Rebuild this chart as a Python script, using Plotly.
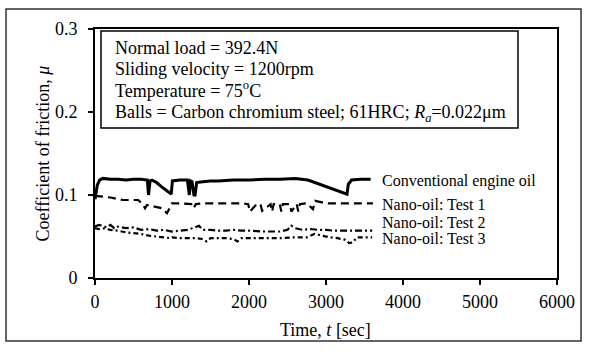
import plotly.graph_objects as go

# ---- data ----
conv_t = [0, 30, 60, 100, 200, 300, 400, 500, 600, 680, 695, 715, 740, 800, 850, 900, 950, 990,
          1005, 1100, 1200, 1225, 1240, 1260, 1285, 1300, 1320, 1400, 1500, 1600, 1800, 2000,
          2200, 2400, 2600, 2766, 2948, 3100, 3273, 3290, 3333, 3450, 3580]
conv_mu = [0.095, 0.112, 0.118, 0.120, 0.119, 0.119, 0.118, 0.119, 0.119, 0.118, 0.100, 0.117,
           0.118, 0.115, 0.111, 0.108, 0.104, 0.101, 0.117, 0.118, 0.118, 0.100, 0.117, 0.116,
           0.100, 0.100, 0.115, 0.116, 0.117, 0.117, 0.118, 0.118, 0.119, 0.119, 0.120, 0.118,
           0.112, 0.107, 0.101, 0.113, 0.118, 0.119, 0.119]

t1_t = [0, 100, 200, 360, 560, 610, 650, 675, 780, 870, 935, 1000, 1100, 1200, 1250, 1280, 1310,
        1400, 1600, 1900, 1990, 2010, 2100, 2150, 2170, 2280, 2300, 2320, 2400, 2420, 2440, 2530,
        2550, 2620, 2640, 2660, 2750, 2830, 2860, 3000, 3200, 3400, 3610]
t1_mu = [0.099, 0.098, 0.097, 0.094, 0.094, 0.090, 0.084, 0.088, 0.086, 0.084, 0.078, 0.090,
         0.090, 0.089, 0.089, 0.084, 0.089, 0.090, 0.090, 0.090, 0.089, 0.080, 0.089, 0.089,
         0.081, 0.089, 0.080, 0.089, 0.089, 0.080, 0.089, 0.089, 0.080, 0.089, 0.080, 0.089,
         0.090, 0.083, 0.093, 0.090, 0.090, 0.090, 0.090]

t2_t = [0, 50, 100, 150, 200, 250, 300, 400, 500, 600, 700, 800, 900, 1000, 1100, 1200, 1300,
        1350, 1400, 1500, 1600, 1700, 1800, 1900, 2000, 2200, 2400, 2500, 2550, 2600, 2700, 2800,
        2900, 3000, 3100, 3200, 3300, 3400, 3500, 3600]
t2_mu = [0.062, 0.064, 0.063, 0.061, 0.064, 0.060, 0.062, 0.060, 0.061, 0.058, 0.059, 0.057,
         0.058, 0.056, 0.057, 0.058, 0.061, 0.063, 0.058, 0.058, 0.057, 0.057, 0.058, 0.057,
         0.057, 0.056, 0.056, 0.058, 0.063, 0.060, 0.058, 0.059, 0.058, 0.058, 0.057, 0.057,
         0.057, 0.057, 0.057, 0.057]

t3_t = [0, 50, 100, 200, 300, 400, 500, 600, 700, 800, 900, 980, 1000, 1100, 1200, 1300, 1400,
        1450, 1500, 1600, 1700, 1800, 1850, 1900, 2000, 2200, 2400, 2600, 2750, 2850, 2950, 3050,
        3150, 3250, 3300, 3350, 3400, 3500, 3600]
t3_mu = [0.060, 0.059, 0.060, 0.058, 0.057, 0.055, 0.054, 0.053, 0.051, 0.050, 0.049, 0.048,
         0.049, 0.048, 0.048, 0.048, 0.047, 0.044, 0.048, 0.048, 0.048, 0.047, 0.044, 0.048,
         0.048, 0.048, 0.048, 0.049, 0.049, 0.053, 0.051, 0.049, 0.048, 0.046, 0.042, 0.043,
         0.049, 0.049, 0.049]

series_names = ["Conventional engine oil", "Nano-oil: Test 1", "Nano-oil: Test 2", "Nano-oil: Test 3"]
label_t = [3700, 3700, 3700, 3700]
label_mu = [0.117, 0.089, 0.067, 0.047]

x_ticks = [0, 1000, 2000, 3000, 4000, 5000, 6000]
y_ticks = [0, 0.1, 0.2, 0.3]
y_tick_text = ["0", "0.1", "0.2", "0.3"]

info_lines = ["Normal load = 392.4N",
              "Sliding velocity = 1200rpm",
              "Temperature = 75<sup>o</sup>C",
              "Balls = Carbon chromium steel; 61HRC; <i>R<sub>a</sub></i>=0.022μm"]

FONT = "Liberation Serif, Times New Roman, serif"

fig = go.Figure()
fig.add_trace(go.Scatter(x=conv_t, y=conv_mu, mode="lines", name=series_names[0],
                         line=dict(color="black", width=3)))
fig.add_trace(go.Scatter(x=t1_t, y=t1_mu, mode="lines", name=series_names[1],
                         line=dict(color="black", width=2.2, dash="8px,5px")))
fig.add_trace(go.Scatter(x=t2_t, y=t2_mu, mode="lines", name=series_names[2],
                         line=dict(color="black", width=2.2, dash="7px,3px,2px,3px")))
fig.add_trace(go.Scatter(x=t3_t, y=t3_mu, mode="lines", name=series_names[3],
                         line=dict(color="black", width=2.2, dash="5px,3px,2px,3px")))

annotations = []
for name, lx, ly in zip(series_names, label_t, label_mu):
    annotations.append(dict(x=lx, y=ly, xref="x", yref="y", text=name, showarrow=False,
                            xanchor="left", yanchor="middle",
                            font=dict(family=FONT, size=16, color="black")))

line_y = [0.922, 0.838, 0.758, 0.662]
for txt, yy in zip(info_lines, line_y):
    annotations.append(dict(x=0.039, y=yy, xref="paper", yref="paper", text=txt, showarrow=False,
                            xanchor="left", yanchor="middle",
                            font=dict(family=FONT, size=18, color="black")))

annotations.append(dict(x=-0.1126, y=0.5, xref="paper", yref="paper",
                        text="Coefficient of friction, <i>μ</i>", textangle=-90, showarrow=False,
                        xanchor="center", yanchor="middle",
                        font=dict(family=FONT, size=18, color="black")))
annotations.append(dict(x=0.498, y=-0.209, xref="paper", yref="paper",
                        text="Time, <i>t</i> [sec]", showarrow=False,
                        xanchor="center", yanchor="middle",
                        font=dict(family=FONT, size=18, color="black")))

shapes = [
    dict(type="rect", xref="paper", yref="paper", x0=0.013, x1=0.9156, y0=0.602, y1=0.992,
         line=dict(color="black", width=1.5), fillcolor="white", layer="above"),
    dict(type="rect", xref="paper", yref="paper", x0=-0.1926, x1=1.052, y0=-0.253, y1=1.080,
         line=dict(color="#333333", width=1.5)),
]

fig.update_layout(
    width=589, height=356,
    margin=dict(l=95, r=32, t=29, b=78),
    paper_bgcolor="white", plot_bgcolor="white",
    showlegend=False,
    annotations=annotations, shapes=shapes,
    font=dict(family=FONT, size=18, color="black"),
)
fig.update_xaxes(range=[0, 6000], tickvals=x_ticks, ticktext=[str(v) for v in x_ticks],
                 showgrid=False, zeroline=False, showline=True, linecolor="black", linewidth=1.5,
                 mirror=True, ticks="outside", ticklen=5, tickwidth=1.5, tickcolor="black",
                 ticklabelstandoff=2, tickfont=dict(family=FONT, size=18, color="black"))
fig.update_yaxes(range=[0, 0.3], tickvals=y_ticks, ticktext=y_tick_text,
                 showgrid=False, zeroline=False, showline=True, linecolor="black", linewidth=2,
                 mirror=True, ticks="outside", ticklen=5, tickwidth=1.5, tickcolor="black",
                 ticklabelstandoff=7, tickfont=dict(family=FONT, size=18, color="black"))

fig.write_html("out.html", config={"displayModeBar": False},
               post_script="document.body.style.margin='0px';")
